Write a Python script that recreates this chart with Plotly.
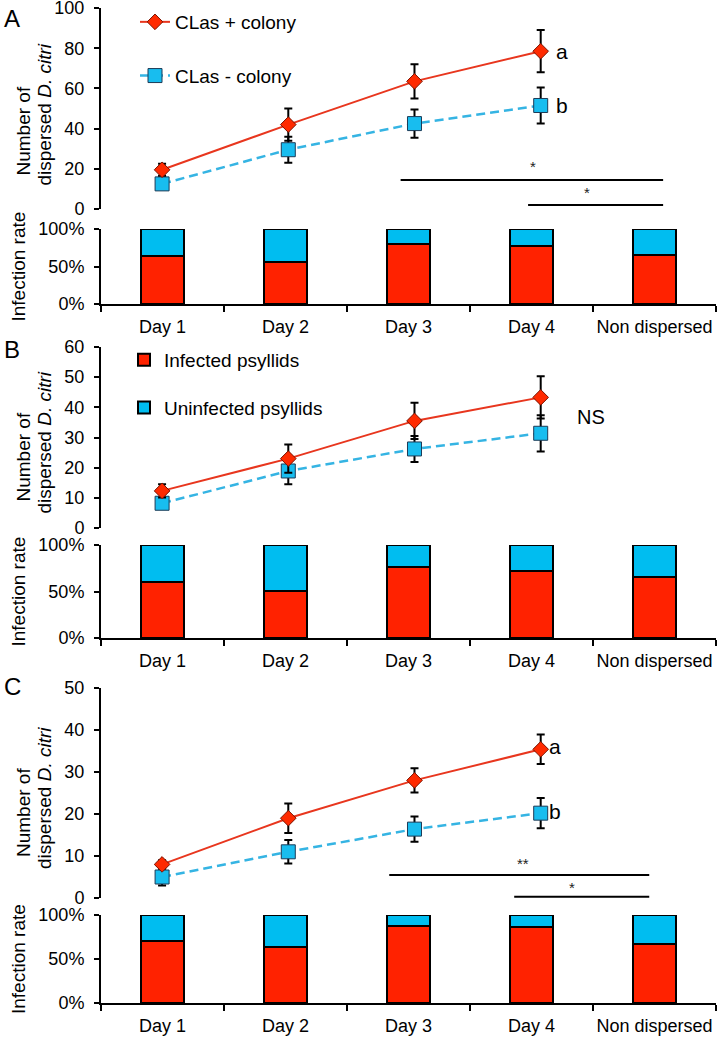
import plotly.graph_objects as go

# ---------------- data ----------------
categories = ["Day 1", "Day 2", "Day 3", "Day 4", "Non dispersed"]
days = ["Day 1", "Day 2", "Day 3", "Day 4"]

# Panel A: number of dispersed D. citri
a_pos = [19.5, 42.0, 63.5, 78.5]
a_pos_err = [3.0, 8.0, 8.5, 10.5]
a_neg = [12.5, 29.5, 42.5, 51.5]
a_neg_err = [2.0, 6.5, 7.0, 9.0]
# Panel B
b_pos = [12.3, 23.0, 35.5, 43.3]
b_pos_err = [2.2, 4.7, 6.0, 7.0]
b_neg = [8.2, 18.9, 26.2, 31.4]
b_neg_err = [1.5, 4.4, 4.3, 6.0]
# Panel C
c_pos = [8.0, 19.0, 28.0, 35.4]
c_pos_err = [1.0, 3.5, 2.9, 3.5]
c_neg = [5.0, 11.0, 16.4, 20.2]
c_neg_err = [2.0, 2.8, 3.0, 3.6]

# Infection rates (fractions)
a_inf = [0.64, 0.56, 0.80, 0.78, 0.65]
a_uninf = [0.36, 0.44, 0.20, 0.22, 0.35]
b_inf = [0.60, 0.51, 0.76, 0.72, 0.66]
b_uninf = [0.40, 0.49, 0.24, 0.28, 0.34]
c_inf = [0.71, 0.64, 0.87, 0.86, 0.67]
c_uninf = [0.29, 0.36, 0.13, 0.14, 0.33]

# significance bars: (x0, x1, y, label, label_x, label_y)
a_sig = [(1.89, 3.97, 14.4, "*", 2.94, 20.9), (2.90, 3.97, 2.0, "*", 3.37, 8.0)]
c_sig = [(1.80, 3.86, 5.5, "**", 2.86, 8.3), (2.79, 3.86, 0.3, "*", 3.25, 2.4)]

# ---------------- style ----------------
W, H = 720, 1043
FONT = "Liberation Sans, Arial, sans-serif"
RED_LINE = "#E8361E"
RED_FILL = "#FF2A00"
BLUE_LINE = "#35B4E3"
BLUE_FILL = "#18BDEF"
BAR_RED = "#FF2200"
BAR_BLUE = "#00BDF0"


def py(p):
    return 1 - p / H


def px(p):
    return p / W


x_dom = [px(101), px(716)]
line_xrange = [-0.484, 4.389]

# vertical layout in pixels (top, bottom)
panels = {
    "A": dict(line=(8, 209), bars=(229, 304), ymax=100, dtick=20),
    "B": dict(line=(347, 528), bars=(545, 638), ymax=60, dtick=10),
    "C": dict(line=(688, 898), bars=(915, 1003), ymax=50, dtick=10),
}

fig = go.Figure()

line_data = {
    "A": (a_pos, a_pos_err, a_neg, a_neg_err),
    "B": (b_pos, b_pos_err, b_neg, b_neg_err),
    "C": (c_pos, c_pos_err, c_neg, c_neg_err),
}
bar_data = {"A": (a_inf, a_uninf), "B": (b_inf, b_uninf), "C": (c_inf, c_uninf)}

layout_axes = {}
for i, key in enumerate(["A", "B", "C"]):
    n_line = 2 * i + 1
    n_bar = 2 * i + 2
    xl = "x" if n_line == 1 else f"x{n_line}"
    yl = "y" if n_line == 1 else f"y{n_line}"
    xb = f"x{n_bar}"
    yb = f"y{n_bar}"
    p = panels[key]
    pos, pos_err, neg, neg_err = line_data[key]

    fig.add_trace(go.Scatter(
        x=days, y=neg, xaxis=xl, yaxis=yl, mode="lines+markers",
        name="CLas - colony", legendgroup="neg", showlegend=(key == "A"),
        legend="legend", legendrank=2,
        line=dict(color=BLUE_LINE, width=2.5, dash="9px,5px"),
        marker=dict(symbol="square", size=14, color=BLUE_FILL,
                    line=dict(color="#1d3b57", width=1)),
        error_y=dict(type="data", array=neg_err, color="black", thickness=2, width=4),
    ))
    fig.add_trace(go.Scatter(
        x=days, y=pos, xaxis=xl, yaxis=yl, mode="lines+markers",
        name="CLas + colony", legendgroup="pos", showlegend=(key == "A"),
        legend="legend", legendrank=1,
        line=dict(color=RED_LINE, width=2),
        marker=dict(symbol="diamond", size=12, color=RED_FILL,
                    line=dict(color="#7a1200", width=1)),
        error_y=dict(type="data", array=pos_err, color="black", thickness=2, width=4),
    ))

    inf, uninf = bar_data[key]
    fig.add_trace(go.Bar(
        x=categories, y=inf, xaxis=xb, yaxis=yb, width=0.35,
        name="Infected psyllids", legendgroup="inf", showlegend=(key == "B"),
        legend="legend2", legendrank=1,
        marker=dict(color=BAR_RED, line=dict(color="black", width=2)),
    ))
    fig.add_trace(go.Bar(
        x=categories, y=uninf, xaxis=xb, yaxis=yb, width=0.35,
        name="Uninfected psyllids", legendgroup="uninf", showlegend=(key == "B"),
        legend="legend2", legendrank=2,
        marker=dict(color=BAR_BLUE, line=dict(color="black", width=2)),
    ))

    lt, lb = p["line"]
    bt, bb = p["bars"]
    xl_name = "xaxis" if n_line == 1 else f"xaxis{n_line}"
    yl_name = "yaxis" if n_line == 1 else f"yaxis{n_line}"
    layout_axes[xl_name] = dict(
        domain=x_dom, anchor=yl, type="category", categoryarray=categories,
        range=line_xrange, visible=False, automargin=False,
    )
    layout_axes[yl_name] = dict(
        domain=[py(lb), py(lt)], anchor=xl, range=[0, p["ymax"]], dtick=p["dtick"],
        showline=True, linecolor="black", linewidth=2, ticks="outside",
        ticklen=5, tickwidth=2, tickcolor="black", showgrid=False, zeroline=False,
        tickfont=dict(size=18, color="black", family=FONT), automargin=False,
        ticklabeloverflow="allow", ticklabelstandoff=6,
    )
    layout_axes[f"xaxis{n_bar}"] = dict(
        domain=x_dom, anchor=yb, type="category", categoryarray=categories,
        range=[-0.5, 4.5], showline=True, linecolor="black", linewidth=2,
        ticks="outside", tickson="boundaries", ticklen=6, tickwidth=2,
        tickcolor="black", showgrid=False, tickangle=0, automargin=False,
        ticklabeloverflow="allow", ticklabelstandoff=5,
        tickfont=dict(size=18, color="black", family=FONT),
    )
    layout_axes[f"yaxis{n_bar}"] = dict(
        domain=[py(bb), py(bt)], anchor=xb, range=[0, 1],
        tickvals=[0, 0.5, 1], ticktext=["0%", "50%", "100%"],
        showline=True, linecolor="black", linewidth=2, ticks="outside",
        ticklen=5, tickwidth=2, tickcolor="black", showgrid=False, zeroline=False,
        tickfont=dict(size=18, color="black", family=FONT), automargin=False,
        ticklabeloverflow="allow", ticklabelstandoff=6,
    )

shapes = []
annotations = []


def sig(sigs, xr, yr):
    for x0, x1, y, lab, lx, ly in sigs:
        shapes.append(dict(type="line", xref=xr, yref=yr, x0=x0, x1=x1, y0=y, y1=y,
                           line=dict(color="black", width=2)))
        annotations.append(dict(text=lab, xref=xr, yref=yr, x=lx, y=ly,
                                xanchor="center", yanchor="middle",
                                showarrow=False, font=dict(size=15, color="#222")))


sig(a_sig, "x", "y")
sig(c_sig, "x5", "y5")

# letters a / b and NS
letter_ann = [
    ("a", "x", "y", 3.17, a_pos[3], 21),
    ("b", "x", "y", 3.17, a_neg[3], 21),
    ("NS", "x3", "y3", 3.40, 36.8, 20),
    ("a", "x5", "y5", 3.11, c_pos[3] + 0.7, 21),
    ("b", "x5", "y5", 3.11, c_neg[3] + 0.4, 21),
]
for t, xr, yr, x, y, s in letter_ann:
    annotations.append(dict(text=t, xref=xr, yref=yr, x=x, y=y, showarrow=False,
                            xanchor="center", yanchor="middle",
                            font=dict(size=s, color="black")))

# panel letters
for lab, ypix in [("A", 18), ("B", 350), ("C", 686)]:
    annotations.append(dict(text=lab, xref="paper", yref="paper", x=px(12), y=py(ypix),
                            xanchor="center", yanchor="middle",
                            showarrow=False, font=dict(size=24, color="black")))

# y-axis titles
for key, off1, off2 in [("A", 23, 6), ("B", 20, 5), ("C", 20, 5)]:
    lt, lb = panels[key]["line"]
    mid = (lt + lb) / 2
    annotations.append(dict(text="Number of", xref="paper", yref="paper",
                            x=px(23), y=py(mid + off1), textangle=-90, showarrow=False,
                            xanchor="center", yanchor="middle",
                            font=dict(size=19, color="black")))
    annotations.append(dict(text="dispersed <i>D. citri</i>", xref="paper", yref="paper",
                            x=px(44), y=py(mid + off2), textangle=-90, showarrow=False,
                            xanchor="center", yanchor="middle",
                            font=dict(size=19, color="black")))
    bt, bb = panels[key]["bars"]
    annotations.append(dict(text="Infection rate", xref="paper", yref="paper",
                            x=px(18), y=py((bt + bb) / 2), textangle=-90, showarrow=False,
                            xanchor="center", yanchor="middle",
                            font=dict(size=19, color="black")))

fig.update_layout(
    width=W, height=H, margin=dict(l=0, r=0, t=0, b=0, autoexpand=False),
    paper_bgcolor="white", plot_bgcolor="white",
    font=dict(family=FONT, color="black", size=18),
    barmode="stack",
    shapes=shapes, annotations=annotations,
    legend=dict(x=px(135), y=py(3), xanchor="left", yanchor="top",
                bgcolor="rgba(0,0,0,0)", font=dict(size=19),
                traceorder="grouped", tracegroupgap=26),
    legend2=dict(x=px(124), y=py(341), xanchor="left", yanchor="top",
                 bgcolor="rgba(0,0,0,0)", font=dict(size=19),
                 traceorder="grouped", tracegroupgap=20),
    **layout_axes,
)

fig.write_html(
    "out.html",
    config={"displayModeBar": False},
    post_script="document.body.style.margin='0px';document.body.style.padding='0px';",
)
